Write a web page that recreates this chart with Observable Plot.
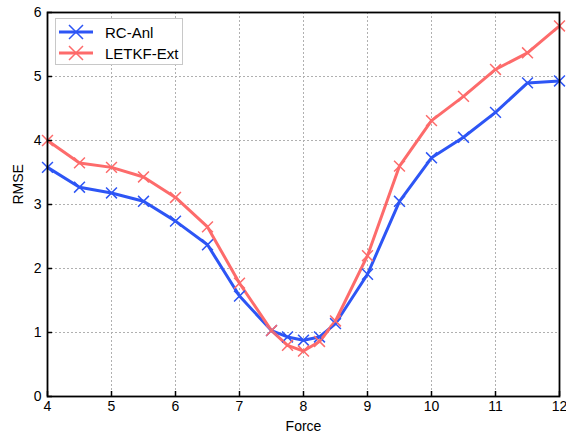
<!DOCTYPE html>
<html><head><meta charset="utf-8">
<script src="https://cdn.jsdelivr.net/npm/d3@7"></script>
<script src="https://cdn.jsdelivr.net/npm/@observablehq/plot@0.6"></script>
<style>
body{margin:0;background:#fff;font-family:"Liberation Sans",Arial,sans-serif;}
#wrap{position:relative;width:566px;height:438px;}
#legend{position:absolute;left:55px;top:18px;width:128px;height:47px;border:1px solid #c8c8c8;background:#fff;box-sizing:border-box;}
.item{position:absolute;left:3px;height:20px;display:flex;align-items:center;font-size:15px;color:#000;}
.item svg{margin-right:12px;}
</style></head>
<body><div id="wrap"></div>
<script>
const force = [4, 4.5, 5, 5.5, 6, 6.5, 7, 7.5, 7.75, 8, 8.25, 8.5, 9, 9.5, 10, 10.5, 11, 11.5, 12];
const rcAnl = [3.58, 3.27, 3.18, 3.05, 2.74, 2.37, 1.57, 1.03, 0.93, 0.88, 0.93, 1.14, 1.91, 3.05, 3.73, 4.05, 4.44, 4.9, 4.93];
const letkfExt = [4.0, 3.65, 3.58, 3.43, 3.11, 2.65, 1.77, 1.03, 0.8, 0.71, 0.86, 1.18, 2.2, 3.6, 4.31, 4.69, 5.11, 5.37, 5.79];
const seriesNames = ["RC-Anl", "LETKF-Ext"];
const seriesColors = ["#2d55f5", "#fd6b6b"];
const xTicks = [4, 5, 6, 7, 8, 9, 10, 11, 12];
const yTicks = [0, 1, 2, 3, 4, 5, 6];

const rows = [];
[rcAnl, letkfExt].forEach((vals, s) => vals.forEach((v, i) => rows.push({force: force[i], rmse: v, series: seriesNames[s]})));

const W = 566, H = 438, mL = 47, mR = 7, mT = 12, mB = 42;
const fw = W - mL - mR, fh = H - mT - mB;

const chart = Plot.plot({
  width: W, height: H,
  marginLeft: mL, marginRight: mR, marginTop: mT, marginBottom: mB,
  style: {fontFamily: "'Liberation Sans', Arial, sans-serif", fontSize: "14px", background: "#fff", color: "#000"},
  x: {domain: [4, 12], label: null},
  y: {domain: [0, 6], label: null},
  color: {domain: seriesNames, range: seriesColors},
  marks: [
    Plot.gridX(xTicks, {stroke: "#b0b0b0", strokeOpacity: 1, strokeDasharray: "2,2", strokeWidth: 1}),
    Plot.gridY(yTicks, {stroke: "#b0b0b0", strokeOpacity: 1, strokeDasharray: "2,2", strokeWidth: 1}),
    Plot.line(rows, {x: "force", y: "rmse", stroke: "series", strokeWidth: 3}),
    Plot.dot(rows, {x: "force", y: "rmse", stroke: "series", symbol: "times", r: 5, strokeWidth: 1.5}),
    Plot.tickX(xTicks, {x: d => d, stroke: "#000", strokeWidth: 1.5, insetTop: fh - 5}),
    Plot.tickY(yTicks, {y: d => d, stroke: "#000", strokeWidth: 1.5, insetRight: fw - 5}),
    Plot.axisX(xTicks, {tickSize: 0, tickPadding: 5, fontSize: 14, label: null, tickFormat: d3.format("d")}),
    Plot.axisY(yTicks, {tickSize: 0, tickPadding: 6, fontSize: 14, label: null, tickFormat: d3.format("d")}),
    Plot.text(["Force"], {frameAnchor: "bottom", dy: 34, fontSize: 14, text: d => d}),
    Plot.text(["RMSE"], {frameAnchor: "left", dx: -29, rotate: -90, fontSize: 14, text: d => d}),
    Plot.frame({stroke: "#000", strokeWidth: 1.8})
  ]
});
const wrap = document.getElementById("wrap");
wrap.appendChild(chart);

const legend = document.createElement("div");
legend.id = "legend";
seriesNames.forEach((name, i) => {
  const item = document.createElement("div");
  item.className = "item";
  item.style.top = (3 + i * 21) + "px";
  const c = seriesColors[i];
  item.innerHTML = `<svg width="34" height="20"><line x1="0" x2="34" y1="10" y2="10" stroke="${c}" stroke-width="3"/><path d="M10,3L24,17M24,3L10,17" stroke="${c}" stroke-width="1.5"/></svg><span>${name}</span>`;
  legend.appendChild(item);
});
wrap.appendChild(legend);
</script>
</body></html>
